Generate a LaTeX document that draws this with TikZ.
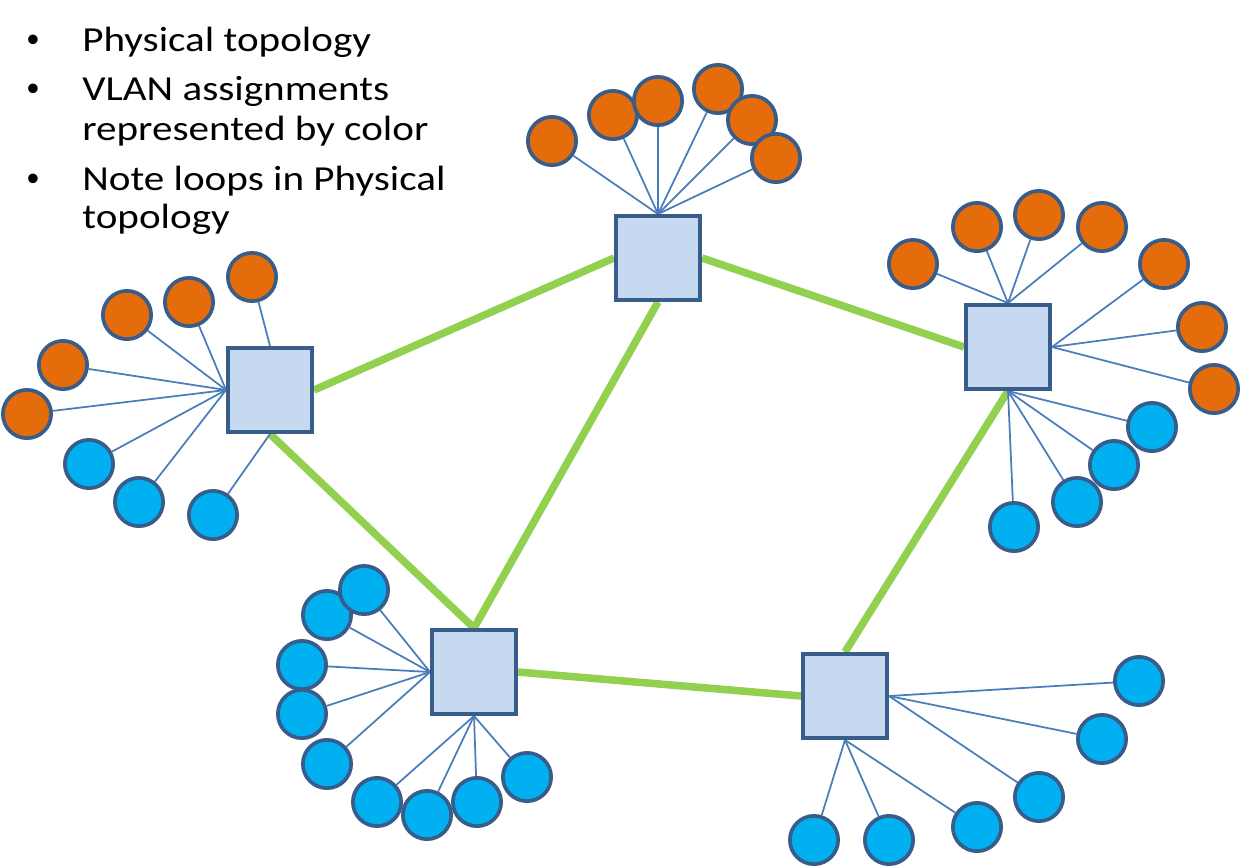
\documentclass[tikz,border=0pt]{standalone}
\usepackage{fontspec}
\setmainfont{Carlito}
\newfontfamily\listfont[FakeStretch=1.17]{Carlito}
\newfontfamily\dotfont{Liberation Sans}
\usetikzlibrary{backgrounds}
\definecolor{swfill}{HTML}{C6D9F1}
\definecolor{swborder}{HTML}{385D8A}
\definecolor{vlanorange}{HTML}{E46C0A}
\definecolor{vlanblue}{HTML}{00B0F0}
\definecolor{trunkgreen}{HTML}{92D050}
\definecolor{accessblue}{HTML}{4A7EBB}

\begin{document}
\begin{tikzpicture}[x=0.02cm, y=-0.02cm,
    switch/.style={draw=swborder, fill=swfill, line width=2.1pt, minimum size=1.686cm, inner sep=0pt},
    host/.style={circle, draw=swborder, line width=2.1pt, minimum size=0.966cm, inner sep=0pt},
    orangehost/.style={host, fill=vlanorange},
    bluehost/.style={host, fill=vlanblue},
    trunk/.style={trunkgreen, line width=4.3pt},
    access/.style={accessblue, line width=1pt},
    listtext/.style={anchor=base west, inner sep=0pt, font=\listfont\fontsize{20}{24}\selectfont},
    listdot/.style={anchor=base, inner sep=0pt, font=\dotfont\fontsize{20}{24}\selectfont}]

    \useasboundingbox (0,0) rectangle (1241,867);

    % Bullet list in the top left corner
    \node[listdot] (d1) at (33,51) {•};
    \node[listdot] (d2) at (33,100) {•};
    \node[listdot] (d3) at (33,190) {•};
    \node[listtext] (t1) at (82,51) {Physical topology};
    \node[listtext] (t2) at (82,100) {VLAN assignments};
    \node[listtext] (t3) at (82,140) {represented by color};
    \node[listtext] (t4) at (82,190) {Note loops in Physical};
    \node[listtext] (t5) at (82,228) {topology};

    % The five switches
    \node[switch] (swL) at (270,390) {};
    \node[switch] (swT) at (658,258) {};
    \node[switch] (swR) at (1008,347) {};
    \node[switch] (swB) at (474,672) {};
    \node[switch] (swE) at (845,696) {};

    % Hosts of the left switch
    \node[orangehost] (hL1) at (252,277) {};
    \node[orangehost] (hL2) at (189,302) {};
    \node[orangehost] (hL3) at (127,315) {};
    \node[orangehost] (hL4) at (63,365) {};
    \node[orangehost] (hL5) at (27,414) {};
    \node[bluehost] (hL6) at (89,464) {};
    \node[bluehost] (hL7) at (139,502) {};
    \node[bluehost] (hL8) at (213,515) {};

    % Hosts of the top switch
    \node[orangehost] (hT1) at (552,141) {};
    \node[orangehost] (hT2) at (613,115) {};
    \node[orangehost] (hT3) at (658,101) {};
    \node[orangehost] (hT4) at (718,89) {};
    \node[orangehost] (hT5) at (752,120) {};
    \node[orangehost] (hT6) at (776,158) {};

    % Hosts of the right switch
    \node[orangehost] (hR1) at (913,264) {};
    \node[orangehost] (hR2) at (977,227) {};
    \node[orangehost] (hR3) at (1039,215) {};
    \node[orangehost] (hR4) at (1102,227) {};
    \node[orangehost] (hR5) at (1164,264) {};
    \node[orangehost] (hR6) at (1202,327) {};
    \node[orangehost] (hR7) at (1214,389) {};
    \node[bluehost] (hR8) at (1152,427) {};
    \node[bluehost] (hR9) at (1114,465) {};
    \node[bluehost] (hR10) at (1077,502) {};
    \node[bluehost] (hR11) at (1014,527) {};

    % Hosts of the bottom left switch
    \node[bluehost] (hB1) at (327,615) {};
    \node[bluehost] (hB2) at (364,590) {};
    \node[bluehost] (hB3) at (302,665) {};
    \node[bluehost] (hB4) at (302,714) {};
    \node[bluehost] (hB5) at (327,764) {};
    \node[bluehost] (hB6) at (377,802) {};
    \node[bluehost] (hB7) at (427,815) {};
    \node[bluehost] (hB8) at (477,802) {};
    \node[bluehost] (hB9) at (527,777) {};

    % Hosts of the bottom right switch
    \node[bluehost] (hE1) at (1139,681) {};
    \node[bluehost] (hE2) at (1102,739) {};
    \node[bluehost] (hE3) at (1039,797) {};
    \node[bluehost] (hE4) at (977,827) {};
    \node[bluehost] (hE5) at (889,840) {};
    \node[bluehost] (hE6) at (814,840) {};

    \begin{scope}[on background layer]
        % Trunk links between the switches (the physical loops)
        \draw[trunk] (swL.east) -- (swT.west);
        \draw[trunk] (swL.south) -- (swB.north);
        \draw[trunk] (swT.south) -- (swB.north);
        \draw[trunk] (swT.east) -- (swR.west);
        \draw[trunk] (swR.south) -- (swE.north);
        \draw[trunk] (swB.east) -- (swE.west);

        % Access links, fanned out from one point on each switch
        \draw[access] (swL.north) -- (hL1);
        \draw[access] (swL.west) -- (hL2);
        \draw[access] (swL.west) -- (hL3);
        \draw[access] (swL.west) -- (hL4);
        \draw[access] (swL.west) -- (hL5);
        \draw[access] (swL.west) -- (hL6);
        \draw[access] (swL.west) -- (hL7);
        \draw[access] (swL.south) -- (hL8);

        \draw[access] (swT.north) -- (hT1);
        \draw[access] (swT.north) -- (hT2);
        \draw[access] (swT.north) -- (hT3);
        \draw[access] (swT.north) -- (hT4);
        \draw[access] (swT.north) -- (hT5);
        \draw[access] (swT.north) -- (hT6);

        \draw[access] (swR.north) -- (hR1);
        \draw[access] (swR.north) -- (hR2);
        \draw[access] (swR.north) -- (hR3);
        \draw[access] (swR.north) -- (hR4);
        \draw[access] (swR.east) -- (hR5);
        \draw[access] (swR.east) -- (hR6);
        \draw[access] (swR.east) -- (hR7);
        \draw[access] (swR.south) -- (hR8);
        \draw[access] (swR.south) -- (hR9);
        \draw[access] (swR.south) -- (hR10);
        \draw[access] (swR.south) -- (hR11);

        \draw[access] (swB.west) -- (hB1);
        \draw[access] (swB.west) -- (hB2);
        \draw[access] (swB.west) -- (hB3);
        \draw[access] (swB.west) -- (hB4);
        \draw[access] (swB.west) -- (hB5);
        \draw[access] (swB.south) -- (hB6);
        \draw[access] (swB.south) -- (hB7);
        \draw[access] (swB.south) -- (hB8);
        \draw[access] (swB.south) -- (hB9);

        \draw[access] (swE.east) -- (hE1);
        \draw[access] (swE.east) -- (hE2);
        \draw[access] (swE.east) -- (hE3);
        \draw[access] (swE.south) -- (hE4);
        \draw[access] (swE.south) -- (hE5);
        \draw[access] (swE.south) -- (hE6);
    \end{scope}

\end{tikzpicture}
\end{document}
